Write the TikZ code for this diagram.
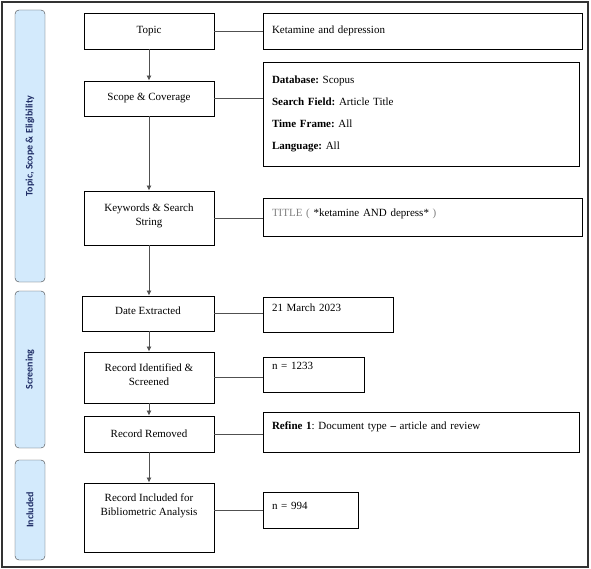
\documentclass[tikz,border=0pt]{standalone}
\usepackage{fontspec}
\setmainfont{Liberation Serif}
\newfontfamily\stagefont{Carlito}
\usetikzlibrary{arrows.meta,positioning}
\definecolor{stagefill}{HTML}{D3EAFC}
\definecolor{stagetext}{HTML}{1F2D66}
\definecolor{linkgray}{HTML}{505050}
\frenchspacing

\begin{document}
\begin{tikzpicture}[x=1pt,y=-1pt,
    box/.style={draw,line width=0.9pt,align=center,minimum width=#1,
      font=\fontsize{11}{14}\selectfont},
    rbox/.style={draw,line width=0.9pt,align=left,text width=#1,inner xsep=9pt,
      font=\fontsize{11}{13}\selectfont},
    lift/.style={text depth=#1},
    stage/.style={draw=black!75,fill=stagefill,rounded corners=4pt,rotate=90,
      minimum height=30,minimum width=#1,text=stagetext,
      font=\stagefont\bfseries\fontsize{10}{12}\selectfont},
    flow/.style={linkgray,line width=0.8pt,-{Latex[length=5pt,width=5pt]}},
    link/.style={linkgray,line width=0.8pt}]
  \useasboundingbox (0,0) rectangle (591,569);
  \draw[line width=1.2pt,black!80] (2,2) rectangle (588,567);

  % stages
  \node[stage=272] (s1) at (30,146) {Topic, Scope \& Eligibility};
  \node[stage=157] (s2) at (30,369.5) {Screening};
  \node[stage=100] (s3) at (30,510) {Included};

  % left column
  \node[box=130,minimum height=36] (topic) at (149,31) {Topic};
  \node[box=130,minimum height=35] (scope) at (149,98.5) {Scope \& Coverage};
  \node[box=130,minimum height=54,lift=6pt] (keys) at (149,218) {Keywords \& Search\\String};
  \node[box=132,minimum height=35,lift=5pt] (date) at (148,313.5) {Date Extracted};
  \node[box=130,minimum height=51,lift=5pt] (ident) at (149,377.5) {Record Identified \&\\Screened};
  \node[box=130,minimum height=36] (removed) at (149,434) {Record Removed};
  \node[box=130,minimum height=69,lift=26pt] (included) at (149,517.5)
    {Record Included for\\Bibliometric Analysis};

  % right column
  \node[rbox=301,minimum height=36] (ket) at (422.5,31) {Ketamine and depression};
  \node[rbox=298,minimum height=104] (db) at (421,114)
    {\textbf{Database:} Scopus\\[9pt]
     \textbf{Search Field:} Article Title\\[9pt]
     \textbf{Time Frame:} All\\[9pt]
     \textbf{Language:} All};
  \node[rbox=301,minimum height=38,lift=8pt] (title) at (422.5,217)
    {\textcolor{gray}{TITLE (} *ketamine AND depress* \textcolor{gray}{)}};
  \node[rbox=112,minimum height=35,lift=14pt] (march) at (328,314.5) {21 March 2023};
  \node[rbox=83,minimum height=35,lift=18pt] (n1) at (313.5,374.5) {n = 1233};
  \node[rbox=298,minimum height=40,lift=12pt] (refine) at (421,432)
    {\textbf{Refine 1}: Document type \textbf{--} article and review};
  \node[rbox=77,minimum height=36,lift=8pt] (n2) at (310.5,510) {n = 994};

  % arrows
  \draw[flow] (topic) -- (scope);
  \draw[flow] (scope) -- (keys);
  \draw[flow] (keys.south) -- (keys.south |- date.north);
  \draw[flow] (date.south -| ident.north) -- (ident);
  \draw[flow] (ident) -- (removed);
  \draw[flow] (removed) -- (included);

  % links
  \foreach \a/\b in {topic/ket,scope/db,keys/title,date/march,ident/n1,removed/refine}
    \draw[link] (\a) -- (\a -| \b.west);
  \draw[link] (included.east |- n2) -- (n2);
\end{tikzpicture}
\end{document}
